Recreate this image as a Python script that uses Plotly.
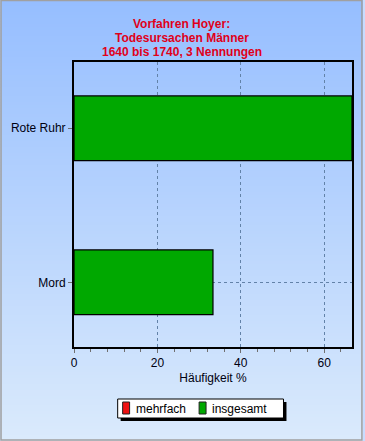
import plotly.graph_objects as go

categories = ["Mord", "Rote Ruhr"]
insgesamt = [33.33, 66.67]
mehrfach = [0, 0]
x_ticks = [0, 20, 40, 60]
title_lines = ["Vorfahren Hoyer:", "Todesursachen Männer", "1640 bis 1740, 3 Nennungen"]
series_names = ["mehrfach", "insgesamt"]
series_colors = ["#ee1111", "#00a800"]

W, H = 365, 441
ML, MR, MT, MB = 74, 11, 62, 94
PW, PH = W - ML - MR, H - MT - MB

def px_x(p):
    return (p - ML) / PW

def px_y(p):
    return (H - MB - p) / PH

fig = go.Figure()
fig.add_trace(go.Bar(
    y=categories, x=mehrfach, orientation="h", name=series_names[0],
    marker=dict(color=series_colors[0], line=dict(color="black", width=1)), width=0.42,
))
fig.add_trace(go.Bar(
    y=categories, x=insgesamt, orientation="h", name=series_names[1],
    marker=dict(color=series_colors[1], line=dict(color="black", width=1.2)), width=0.42,
))

shapes = []
# background gradient
n = 147
top = (150, 190, 255)
bot = (218, 234, 252)
for i in range(n):
    t = i / (n - 1)
    c = tuple(round(top[k] + (bot[k] - top[k]) * t) for k in range(3))
    y0 = i * H / n
    y1 = (i + 1) * H / n + 0.6
    shapes.append(dict(type="rect", xref="paper", yref="paper", layer="below",
                       x0=px_x(0), x1=px_x(W), y0=px_y(y1), y1=px_y(y0),
                       line=dict(width=0), fillcolor="rgb(%d,%d,%d)" % c))
# window border
shapes.append(dict(type="rect", xref="paper", yref="paper", layer="above",
                   x0=px_x(0.5), x1=px_x(W - 1), y0=px_y(H - 1), y1=px_y(0.5),
                   line=dict(color="#a0a0a0", width=1.5), fillcolor="rgba(0,0,0,0)"))

# legend (drawn box with shadow)
shapes.append(dict(type="rect", xref="paper", yref="paper", layer="above",
                   x0=px_x(121), x1=px_x(288), y0=px_y(421), y1=px_y(402),
                   line=dict(width=0), fillcolor="black"))
shapes.append(dict(type="rect", xref="paper", yref="paper", layer="above",
                   x0=px_x(118), x1=px_x(285), y0=px_y(418), y1=px_y(399),
                   line=dict(color="black", width=1), fillcolor="white"))
annotations = []
legend_sq_x = [123, 200]
legend_tx_x = [134, 211]
for name, col, sx, tx in zip(series_names, series_colors, legend_sq_x, legend_tx_x):
    shapes.append(dict(type="rect", xref="paper", yref="paper", layer="above",
                       x0=px_x(sx), x1=px_x(sx + 7), y0=px_y(414), y1=px_y(402),
                       line=dict(color="#202020", width=1), fillcolor=col))
    annotations.append(dict(text=name, xref="paper", yref="paper", x=px_x(tx), y=px_y(408.5),
                            xanchor="left", yanchor="middle", showarrow=False,
                            font=dict(size=12, color="black")))

# title lines
for i, line in enumerate(title_lines):
    annotations.append(dict(text="<b>%s</b>" % line, xref="paper", yref="paper",
                            x=px_x(W / 2), y=px_y(24 + 14 * i), xanchor="center", yanchor="middle",
                            showarrow=False,
                            font=dict(size=12, color="#e0001a")))

grid_col = "#6282a8"
fig.update_layout(
    width=W, height=H,
    margin=dict(l=ML, r=MR, t=MT, b=MB),
    paper_bgcolor="rgb(200,220,255)",
    plot_bgcolor="rgba(0,0,0,0)",
    barmode="overlay",
    font=dict(family="Arial, Liberation Sans, sans-serif", size=12, color="#000010"),
    shapes=shapes,
    annotations=annotations,
    showlegend=False,
    xaxis=dict(range=[0, 66.67], tickvals=x_ticks, showgrid=True, gridcolor=grid_col,
               griddash="3px,3px", gridwidth=1, zeroline=False,
               showline=True, linecolor="black", linewidth=2, mirror=True,
               ticks="outside", ticklen=4, tickcolor="#707070",
               minor=dict(dtick=4, tick0=0, ticks="outside", ticklen=3, tickcolor="#707070", showgrid=False),
               title=dict(text="Häufigkeit %", standoff=4, font=dict(size=12)),
               fixedrange=True),
    yaxis=dict(type="category", range=[-0.42, 1.43], showgrid=True, gridcolor=grid_col,
               griddash="3px,3px", gridwidth=1, zeroline=False,
               showline=True, linecolor="black", linewidth=2, mirror=True,
               ticks="outside", ticklen=4, tickcolor="#707070", fixedrange=True),
)

fig.write_html("out.html")
